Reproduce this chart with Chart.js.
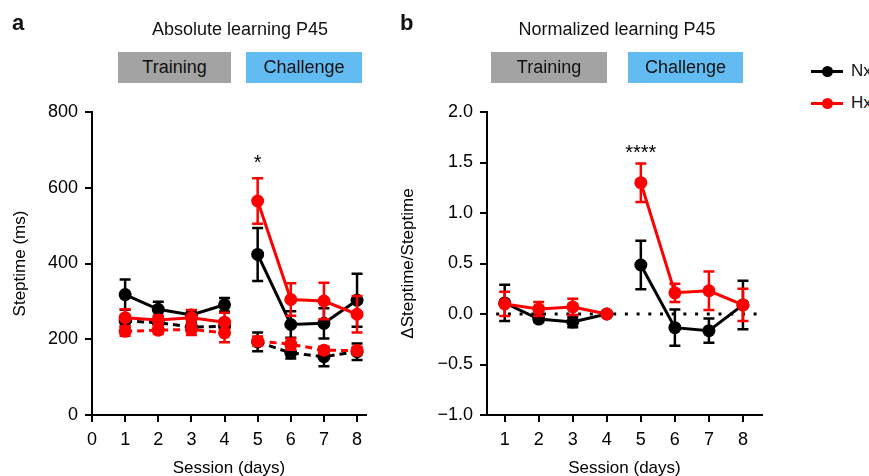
<!DOCTYPE html>
<html>
<head>
<meta charset="utf-8">
<script src="https://cdn.jsdelivr.net/npm/chart.js@4"></script>
<style>
  body { margin: 0; width: 869px; height: 476px; overflow: hidden; background: #fff; position: relative;
         font-family: "Liberation Sans", Arial, sans-serif; color: #111; }
  canvas { position: absolute; top: 0; }
  .title { position: absolute; top: 19px; font-size: 18px; white-space: nowrap; transform: translateX(-50%); }
  .box { position: absolute; top: 52px; height: 31px; line-height: 31px; font-size: 18px; text-align: center; }
  .grey { background: #a3a3a3; }
  .blue { background: #63bcf1; }
  .lab { position: absolute; font-weight: bold; font-size: 22px; }
  .lg { position: absolute; left: 811px; height: 20px; }
  .lg .ln { position: absolute; left: 0; top: 9px; width: 32px; height: 3px; }
  .lg .dot { position: absolute; left: 11px; top: 5px; width: 11px; height: 11px; border-radius: 50%; }
  .lg span { position: absolute; left: 40px; top: 0; font-size: 17px; }
</style>
</head>
<body>
<canvas id="chartA" width="400" height="479" style="left:0"></canvas>
<canvas id="chartB" width="410" height="479" style="left:390px"></canvas>

<div class="lab" style="left:12px;top:10px">a</div>
<div class="lab" style="left:400px;top:10px">b</div>
<div class="title" style="left:240px">Absolute learning P45</div>
<div class="title" style="left:617px">Normalized learning P45</div>
<div class="box grey" style="left:118px;width:113px">Training</div>
<div class="box blue" style="left:246px;width:116px">Challenge</div>
<div class="box grey" style="left:491px;width:116px">Training</div>
<div class="box blue" style="left:628px;width:115px">Challenge</div>

<div class="lg" style="top:61px"><div class="ln" style="background:#000"></div><div class="dot" style="background:#000"></div><span>Nx</span></div>
<div class="lg" style="top:93px"><div class="ln" style="background:#f00"></div><div class="dot" style="background:#f00"></div><span>Hx</span></div>

<script>
var days = [1, 2, 3, 4, 5, 6, 7, 8];
var xTicksA = [0, 1, 2, 3, 4, 5, 6, 7, 8];
var xTicksB = [1, 2, 3, 4, 5, 6, 7, 8];
var yTicksA = [0, 200, 400, 600, 800];
var yTicksB = [-1, -0.5, 0, 0.5, 1, 1.5, 2];

// absolute steptime (ms), solid = P45 , dashed = baseline
var nxAbs = [318, 279, 264, 291, 424, 239, 242, 303];
var nxAbsErr = [40, 20, 12, 18, 70, 35, 40, 70];
var hxAbs = [257, 251, 257, 245, 565, 305, 301, 266];
var hxAbsErr = [22, 12, 20, 25, 60, 43, 48, 48];
var nxAbsDash = [248, 244, 232, 234, 193, 164, 154, 167];
var nxAbsDashErr = [15, 12, 12, 15, 25, 15, 25, 22];
var hxAbsDash = [221, 224, 226, 217, 195, 187, 171, 170];
var hxAbsDashErr = [12, 10, 15, 25, 12, 15, 10, 10];

// normalized (dSteptime/Steptime)
var nxNorm = [0.11, -0.05, -0.08, 0, 0.485, -0.135, -0.165, 0.09];
var nxNormErr = [0.18, 0.03, 0.05, 0, 0.24, 0.18, 0.12, 0.24];
var hxNorm = [0.10, 0.05, 0.07, 0, 1.30, 0.21, 0.23, 0.09];
var hxNormErr = [0.12, 0.07, 0.08, 0, 0.19, 0.09, 0.19, 0.16];

// significance marks
var sigDay = 5;
var sigA = { y: 665, text: '*' };
var sigB = { y: 1.59, text: '****' };

Chart.defaults.font.family = '"Liberation Sans", Arial, sans-serif';
Chart.defaults.font.size = 18;
Chart.defaults.color = '#000';

// training (days 1-4) and challenge (days 5-8) drawn as separate lines
function series(vals, errs, color, dash) {
  return [[0, 4], [4, 8]].map(function (r) {
    return {
      data: days.slice(r[0], r[1]).map(function (d, i) {
        return { x: d, y: vals[r[0] + i], e: errs[r[0] + i] };
      }),
      errs: true,
      borderColor: color,
      backgroundColor: color,
      borderWidth: 3,
      borderDash: dash || [],
      pointRadius: 6.5,
      pointHoverRadius: 6.5,
      pointBorderWidth: 0
    };
  });
}

var errorBars = {
  id: 'errorBars',
  beforeDatasetDraw: function (chart, args) {
    var ds = chart.data.datasets[args.index];
    if (!ds.errs) return;
    var ctx = chart.ctx, xs = chart.scales.x, ys = chart.scales.y;
    ctx.save();
    ctx.strokeStyle = ds.borderColor;
    ctx.lineWidth = 2.5;
    ctx.setLineDash([]);
    ds.data.forEach(function (p) {
      if (!p.e) return;
      var x = xs.getPixelForValue(p.x);
      var y1 = ys.getPixelForValue(p.y + p.e), y2 = ys.getPixelForValue(p.y - p.e);
      ctx.beginPath();
      ctx.moveTo(x, y1); ctx.lineTo(x, y2);
      ctx.moveTo(x - 5.5, y1); ctx.lineTo(x + 5.5, y1);
      ctx.moveTo(x - 5.5, y2); ctx.lineTo(x + 5.5, y2);
      ctx.stroke();
    });
    ctx.restore();
  }
};

var stars = {
  id: 'stars',
  afterDatasetsDraw: function (chart, args, opts) {
    var ctx = chart.ctx;
    ctx.save();
    ctx.fillStyle = '#000';
    ctx.font = '20px "Liberation Sans", Arial, sans-serif';
    ctx.textAlign = 'center';
    ctx.textBaseline = 'middle';
    ctx.fillText(opts.text, chart.scales.x.getPixelForValue(sigDay), chart.scales.y.getPixelForValue(opts.y));
    ctx.restore();
  }
};

function axisOpts(min, max, ticks, fit, title, titlePad, fmt) {
  var o = {
    type: 'linear', min: min, max: max,
    afterBuildTicks: function (s) { s.ticks = ticks.map(function (v) { return { value: v }; }); },
    afterFit: fit,
    grid: { display: true, drawOnChartArea: false, drawTicks: true, tickLength: 7, color: '#000', lineWidth: 2 },
    border: { display: true, color: '#000', width: 2 },
    ticks: { color: '#000', padding: 7, maxRotation: 0, autoSkip: false },
    title: { display: true, text: title, color: '#000', font: { size: 17 }, padding: titlePad }
  };
  if (fmt) o.ticks.callback = fmt;
  return o;
}

var common = {
  responsive: false,
  animation: false,
  events: []
};

// first dataset is drawn on top: red over black
var dsA = [].concat(
  series(hxAbs, hxAbsErr, '#f00'),
  series(hxAbsDash, hxAbsDashErr, '#f00', [7, 5]),
  series(nxAbs, nxAbsErr, '#000'),
  series(nxAbsDash, nxAbsDashErr, '#000', [7, 5])
);

new Chart(document.getElementById('chartA'), {
  type: 'line',
  data: { datasets: dsA },
  options: Object.assign({}, common, {
    layout: { padding: { top: 112, right: 34, left: 0, bottom: 0 } },
    scales: {
      x: axisOpts(0, 8.27, xTicksA, function (s) { s.height = 64; }, 'Session (days)', { top: 0, bottom: 0 }),
      y: axisOpts(0, 800, yTicksA, function (s) { s.width = 92; }, 'Steptime (ms)', { top: 10, bottom: 0 })
    },
    plugins: { legend: { display: false }, tooltip: { enabled: false }, stars: sigA }
  }),
  plugins: [errorBars, stars]
});

var dsB = [].concat(
  series(hxNorm, hxNormErr, '#f00'),
  series(nxNorm, nxNormErr, '#000'),
  [{
    data: [{ x: 0.75, y: 0 }, { x: 8.55, y: 0 }],
    borderColor: '#000', borderWidth: 3, borderDash: [3, 8.7], pointRadius: 0
  }]
);

new Chart(document.getElementById('chartB'), {
  type: 'line',
  data: { datasets: dsB },
  options: Object.assign({}, common, {
    layout: { padding: { top: 112, right: 38, left: 0, bottom: 0 } },
    scales: {
      x: axisOpts(0.48, 8.56, xTicksB, function (s) { s.height = 64; }, 'Session (days)', { top: 0, bottom: 0 }),
      y: axisOpts(-1, 2, yTicksB, function (s) { s.width = 97; }, '\u0394Steptime/Steptime', { top: 8, bottom: 0 },
        function (v) { return (v < 0 ? '\u2212' : '') + Math.abs(v).toFixed(1); })
    },
    plugins: { legend: { display: false }, tooltip: { enabled: false }, stars: sigB }
  }),
  plugins: [errorBars, stars]
});
</script>
</body>
</html>
